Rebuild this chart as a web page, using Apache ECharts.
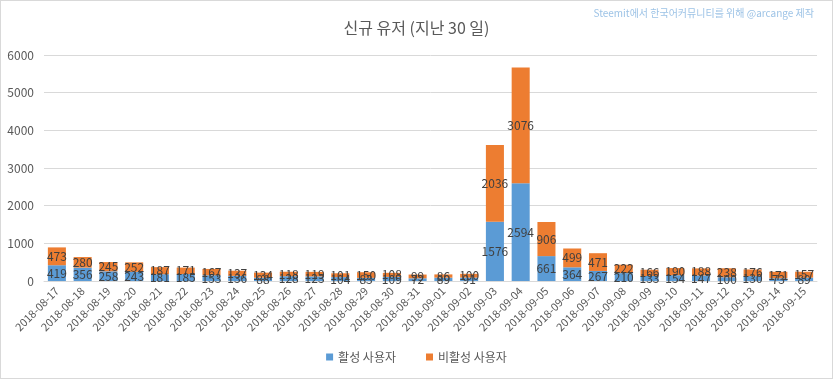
<!DOCTYPE html>
<html><head><meta charset="utf-8">
<script src="https://cdn.jsdelivr.net/npm/echarts@6/dist/echarts.min.js"></script>
<style>
html,body{margin:0;padding:0;background:#fff;}
#c{width:831px;height:377px;border:1px solid #d9d9d9;}
</style></head>
<body><div id="c"></div>
<script>
const categories = ['2018-08-17','2018-08-18','2018-08-19','2018-08-20','2018-08-21','2018-08-22','2018-08-23','2018-08-24','2018-08-25','2018-08-26','2018-08-27','2018-08-28','2018-08-29','2018-08-30','2018-08-31','2018-09-01','2018-09-02','2018-09-03','2018-09-04','2018-09-05','2018-09-06','2018-09-07','2018-09-08','2018-09-09','2018-09-10','2018-09-11','2018-09-12','2018-09-13','2018-09-14','2018-09-15'];
const activeUsers = [419,356,258,243,181,185,153,136,88,128,123,104,83,109,72,89,91,1576,2594,661,364,267,210,133,154,147,100,130,73,89];
const inactiveUsers = [473,280,245,252,187,171,167,137,134,118,119,101,150,108,99,86,100,2036,3076,906,499,471,222,166,190,188,238,176,171,157];
const seriesNames = ['활성 사용자','비활성 사용자'];
const yTicks = {min:0,max:6000,interval:1000};
const titleText = '신규 유저 (지난 30 일)';
const creditText = 'Steemit에서 한국어커뮤니티를 위해 @arcange 제작';

const font = '"Noto Sans CJK KR", "Noto Sans", sans-serif';
const chart = echarts.init(document.getElementById('c'));
const lbl = {show:true, position:'inside', color:'#404040', fontSize:12, fontFamily:font};
chart.setOption({
  animation:false,
  textStyle:{fontFamily:font},
  title:{text:titleText, left:'center', top:14, textStyle:{fontSize:16, fontWeight:'normal', color:'#595959', fontFamily:font}},
  graphic:[{type:'text', right:18, top:7, style:{text:creditText, fontSize:10, fill:'#9dc3e6', fontFamily:font}}],
  legend:{bottom:10, left:'center', itemWidth:7, itemHeight:7, itemGap:30, icon:'rect', textStyle:{color:'#595959', fontSize:12, fontFamily:font}, data:seriesNames},
  grid:{left:43, right:15, top:54, bottom:97, containLabel:false},
  xAxis:{type:'category', data:categories, axisLine:{lineStyle:{color:'#d9d9d9'}}, axisTick:{show:false},
    axisLabel:{rotate:45, color:'#595959', fontSize:11, interval:0, margin:8, fontFamily:font}},
  yAxis:{type:'value', min:yTicks.min, max:yTicks.max, interval:yTicks.interval, axisLine:{show:false}, axisTick:{show:false},
    splitLine:{lineStyle:{color:'#d9d9d9'}}, axisLabel:{color:'#595959', fontSize:12, margin:10, fontFamily:font, formatter:v=>String(v)}},
  series:[
    {name:seriesNames[0], type:'bar', stack:'t', data:activeUsers, barCategoryGap:'30%', itemStyle:{color:'#5b9bd5'}, label:lbl},
    {name:seriesNames[1], type:'bar', stack:'t', data:inactiveUsers, barCategoryGap:'30%', itemStyle:{color:'#ed7d31'}, label:lbl}
  ]
});
</script></body></html>
